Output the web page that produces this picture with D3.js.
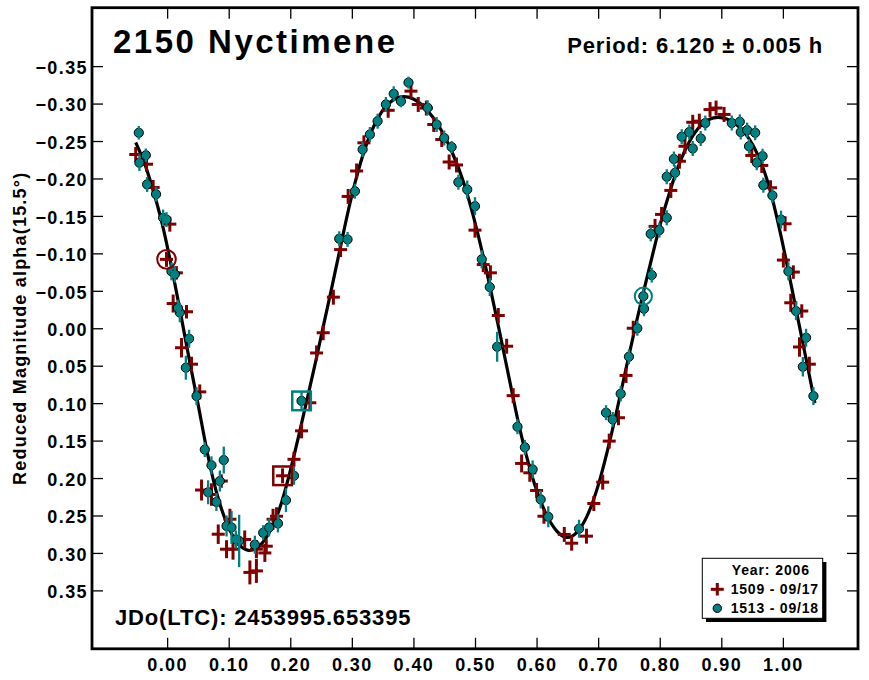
<!DOCTYPE html>
<html>
<head>
<meta charset="utf-8">
<script src="https://cdn.jsdelivr.net/npm/d3@7"></script>
<style>
  html, body { margin: 0; padding: 0; background: #fff; }
  svg { display: block; }
  text { font-family: "Liberation Sans", Arial, sans-serif; font-weight: bold; fill: #000; }
</style>
</head>
<body>
<svg id="chart" width="869" height="680"></svg>
<script>
// ---------- DATA ----------
const title = "2150 Nyctimene";
const periodText = "Period: 6.120 \u00B1 0.005 h";
const epochText = "JDo(LTC): 2453995.653395";
const yLabel = "Reduced Magnitude alpha(15.5\u00B0)";
const legendTitle = "Year: 2006";
const seriesNames = ["1509 - 09/17", "1513 - 09/18"];

const xTicks = [0, 0.1, 0.2, 0.3, 0.4, 0.5, 0.6, 0.7, 0.8, 0.9, 1.0];
const yTicks = [-0.35, -0.30, -0.25, -0.20, -0.15, -0.10, -0.05, 0, 0.05, 0.10, 0.15, 0.20, 0.25, 0.30, 0.35];

// session 1509: [phase, reduced mag, error]
const s1509 = [
  [-0.051,-0.232,0.010],[-0.0335,-0.219,0.010],[-0.0227,-0.188,0.010],[0.0044,-0.139,0.010],
  [-0.001,-0.092,0.010],[0.015,-0.074,0.009],[0.0098,-0.033,0.012],[0.0315,-0.022,0.009],
  [0.0234,0.026,0.013],[0.0396,0.048,0.010],[0.053,0.085,0.010],[0.0559,0.216,0.014],
  [0.072,0.222,0.015],[0.088,0.204,0.009],[0.083,0.275,0.013],[0.102,0.255,0.014],
  [0.0965,0.295,0.012],[0.107,0.295,0.014],[0.126,0.282,0.012],[0.1344,0.326,0.016],
  [0.145,0.324,0.016],[0.145,0.295,0.012],[0.1587,0.300,0.012],[0.161,0.291,0.010],
  [0.172,0.255,0.014],[0.1777,0.251,0.012],[0.1875,0.197,0.010],[0.206,0.175,0.010],
  [0.2183,0.137,0.010],[0.2318,0.0995,0.010],[0.2427,0.033,0.010],[0.2535,0.006,0.010],
  [0.270,-0.0415,0.010],[0.2817,-0.105,0.010],[0.294,-0.176,0.010],[0.3077,-0.210,0.010],
  [0.3196,-0.2476,0.010],[0.359,-0.291,0.010],[0.396,-0.3166,0.010],[0.4078,-0.2988,0.010],
  [0.421,-0.294,0.010],[0.433,-0.272,0.010],[0.446,-0.252,0.010],[0.458,-0.222,0.010],
  [0.470,-0.218,0.010],[0.500,-0.131,0.010],[0.5134,-0.085,0.010],[0.525,-0.074,0.010],
  [0.5378,-0.017,0.010],[0.5514,0.024,0.010],[0.562,0.090,0.010],[0.5757,0.1805,0.012],
  [0.589,0.193,0.012],[0.600,0.2166,0.010],[0.612,0.251,0.010],[0.645,0.2753,0.010],
  [0.657,0.287,0.010],[0.681,0.2776,0.010],[0.693,0.234,0.010],[0.7074,0.2055,0.010],
  [0.718,0.1507,0.010],[0.733,0.1195,0.010],[0.7453,0.063,0.010],[0.757,0.000,0.010],
  [0.7924,-0.136,0.010],[0.803,-0.152,0.010],[0.818,-0.184,0.010],[0.832,-0.223,0.010],
  [0.841,-0.243,0.010],[0.8536,-0.275,0.010],[0.8643,-0.2765,0.010],[0.8817,-0.292,0.010],
  [0.8915,-0.294,0.010],[0.9045,-0.2855,0.010],[0.9495,-0.2307,0.010],[0.9657,-0.2174,0.010],
  [0.980,-0.1876,0.010],[1.0036,-0.1395,0.010],[1.0008,-0.091,0.010],[1.017,-0.075,0.009],
  [1.0128,-0.034,0.012],[1.0307,-0.023,0.009],[1.027,0.025,0.013],[1.043,0.048,0.010]
];

// session 1513: [phase, reduced mag, error]
const s1513 = [
  [-0.046,-0.261,0.009],[-0.0346,-0.231,0.009],[-0.045,-0.221,0.011],[-0.0325,-0.192,0.010],
  [-0.018,-0.179,0.010],[-0.0065,-0.1475,0.011],[-0.001,-0.145,0.010],[0.007,-0.076,0.012],
  [0.0125,-0.072,0.011],[0.0206,-0.021,0.013],[0.0175,-0.027,0.011],[0.0357,0.014,0.012],
  [0.0304,0.0527,0.016],[0.0478,0.0906,0.012],[0.0612,0.162,0.010],[0.092,0.176,0.018],
  [0.072,0.183,0.012],[0.0856,0.204,0.014],[0.0666,0.219,0.016],[0.080,0.232,0.012],
  [0.0965,0.264,0.014],[0.1046,0.266,0.022],[0.117,0.284,0.035],[0.1116,0.282,0.012],
  [0.1425,0.289,0.012],[0.156,0.273,0.010],[0.1657,0.266,0.012],[0.180,0.2606,0.012],
  [0.193,0.2295,0.016],[0.206,0.197,0.012],[0.2183,0.097,0.012],
  [0.2795,-0.1195,0.010],[0.293,-0.1186,0.010],[0.305,-0.183,0.010],[0.3175,-0.2387,0.010],
  [0.3293,-0.2587,0.010],[0.3418,-0.2765,0.010],[0.3553,-0.2988,0.010],[0.368,-0.313,0.010],
  [0.3797,-0.303,0.008],[0.392,-0.328,0.008],[0.423,-0.2944,0.010],[0.4377,-0.272,0.010],
  [0.450,-0.254,0.010],[0.462,-0.242,0.008],[0.473,-0.195,0.010],[0.4874,-0.1853,0.012],
  [0.500,-0.163,0.012],[0.511,-0.092,0.012],[0.524,-0.055,0.012],[0.536,0.0247,0.020],
  [0.569,0.1315,0.010],[0.581,0.159,0.010],[0.5936,0.1885,0.012],[0.6067,0.2286,0.012],
  [0.619,0.2517,0.014],[0.669,0.2677,0.012],[0.7128,0.1128,0.010],[0.7236,0.1218,0.010],
  [0.7366,0.0875,0.010],[0.750,0.038,0.010],[0.7636,0.000,0.010],[0.7734,-0.0428,0.010],
  [0.7745,-0.026,0.010],[0.787,-0.071,0.010],[0.7854,-0.126,0.010],[0.7994,-0.131,0.010],
  [0.8114,-0.1475,0.010],[0.8114,-0.2023,0.010],[0.825,-0.2076,0.010],[0.823,-0.226,0.010],
  [0.8536,-0.240,0.010],[0.8357,-0.2557,0.010],[0.848,-0.262,0.010],[0.8666,-0.2534,0.010],
  [0.874,-0.274,0.010],[0.917,-0.274,0.010],[0.930,-0.2757,0.010],[0.9316,-0.262,0.010],
  [0.942,-0.2645,0.010],[0.955,-0.261,0.010],[0.945,-0.243,0.010],[0.967,-0.2298,0.010],
  [0.9576,-0.221,0.010],[0.9683,-0.191,0.010],[0.983,-0.1773,0.010],[0.997,-0.145,0.012],
  [1.009,-0.076,0.012],[1.0214,-0.0229,0.012],[1.0377,0.0127,0.012],[1.0324,0.0514,0.013],
  [1.0496,0.0906,0.012]
];

// first / last observation of each session (marked with ring / square)
const s1509First = [-0.001, -0.092];
const s1509Last  = [0.1875, 0.197];
const s1513First = [0.7734, -0.0428];
const s1513Last  = [0.2183, 0.097];

// Fourier fit curve: [phase, mag]
const fitCurve = [
  [-0.051,-0.248],[-0.036,-0.221],[-0.023,-0.185],[-0.010,-0.148],[0.002,-0.103],[0.013,-0.058],
  [0.023,-0.015],[0.037,0.047],[0.050,0.099],[0.064,0.163],[0.080,0.222],[0.097,0.263],
  [0.113,0.288],[0.132,0.300],[0.151,0.292],[0.167,0.273],[0.183,0.243],[0.199,0.195],
  [0.216,0.136],[0.232,0.078],[0.242,0.042],[0.251,0.007],[0.261,-0.030],[0.270,-0.064],
  [0.279,-0.099],[0.290,-0.142],[0.300,-0.178],[0.310,-0.210],[0.324,-0.248],[0.340,-0.279],
  [0.357,-0.300],[0.378,-0.311],[0.400,-0.308],[0.421,-0.294],[0.443,-0.270],[0.465,-0.232],
  [0.481,-0.198],[0.497,-0.152],[0.513,-0.098],[0.525,-0.053],[0.538,-0.003],[0.551,0.049],
  [0.562,0.093],[0.573,0.137],[0.587,0.182],[0.600,0.218],[0.616,0.251],[0.633,0.273],
  [0.649,0.282],[0.665,0.275],[0.681,0.255],[0.698,0.218],[0.714,0.168],[0.730,0.112],
  [0.746,0.051],[0.763,-0.012],[0.776,-0.057],[0.787,-0.093],[0.800,-0.138],[0.817,-0.185],
  [0.833,-0.224],[0.849,-0.252],[0.866,-0.272],[0.887,-0.283],[0.909,-0.281],[0.930,-0.270],
  [0.952,-0.247],[0.974,-0.203],[0.990,-0.150],[1.006,-0.089],[1.023,-0.018],[1.039,0.046],
  [1.052,0.100]
];

// ---------- LAYOUT ----------
const RED = "#800000", TEAL = "#008080";
const L = 92, R = 858, T = 7.7, B = 648.8;
const svg = d3.select("#chart");

const x = d3.scaleLinear().domain([-0.122, 1.122]).range([L, R]);
const y = d3.scaleLinear().domain([-0.428, 0.428]).range([T, B]);

// axes
const fmt = d3.format(".2f");
const ax = svg.append("g");
ax.append("g").attr("transform", `translate(0,${B})`)
  .call(d3.axisBottom(x).tickValues(xTicks).tickSize(-11).tickPadding(9).tickFormat(fmt))
  .call(g => { g.select(".domain").remove();
    g.selectAll("line").attr("stroke", "#000").attr("stroke-width", 1.3);
    g.selectAll("text").attr("font-size", 18).attr("letter-spacing", 1.4)
      .attr("font-family", '"Liberation Sans", Arial, sans-serif').attr("font-weight", "bold").attr("fill", "#000"); });
ax.append("g").attr("transform", `translate(0,${T})`)
  .call(d3.axisTop(x).tickValues(xTicks).tickSize(-11).tickFormat(""))
  .call(g => { g.select(".domain").remove(); g.selectAll("line").attr("stroke", "#000").attr("stroke-width", 1.3); });
ax.append("g").attr("transform", `translate(${L},0)`)
  .call(d3.axisLeft(y).tickValues(yTicks).tickSize(-11).tickPadding(4).tickFormat(fmt))
  .call(g => { g.select(".domain").remove();
    g.selectAll("line").attr("stroke", "#000").attr("stroke-width", 1.3);
    g.selectAll("text").attr("font-size", 18).attr("letter-spacing", 1.4).attr("dy", "0.4em")
      .attr("font-family", '"Liberation Sans", Arial, sans-serif').attr("font-weight", "bold").attr("fill", "#000"); });
ax.append("g").attr("transform", `translate(${R},0)`)
  .call(d3.axisRight(y).tickValues(yTicks).tickSize(-11).tickFormat(""))
  .call(g => { g.select(".domain").remove(); g.selectAll("line").attr("stroke", "#000").attr("stroke-width", 1.3); });

// fit curve
svg.append("path").datum(fitCurve)
  .attr("fill", "none").attr("stroke", "#000").attr("stroke-width", 3.2)
  .attr("d", d3.line().x(d => x(d[0])).y(d => y(d[1])).curve(d3.curveBasis));

// session 1509 - crosses
const g1 = svg.append("g").attr("stroke", RED).attr("stroke-width", 3);
g1.selectAll("line.h").data(s1509).join("line").attr("class", "h")
  .attr("x1", d => x(d[0]) - 6.5).attr("x2", d => x(d[0]) + 6.5)
  .attr("y1", d => y(d[1])).attr("y2", d => y(d[1]));
g1.selectAll("line.v").data(s1509).join("line").attr("class", "v")
  .attr("x1", d => x(d[0])).attr("x2", d => x(d[0]))
  .attr("y1", d => y(d[1] - d[2])).attr("y2", d => y(d[1] + d[2]));

// session 1513 - circles with error bars
const g2 = svg.append("g");
g2.selectAll("circle").data(s1513).join("circle")
  .attr("cx", d => x(d[0])).attr("cy", d => y(d[1])).attr("r", 4.6)
  .attr("fill", TEAL).attr("stroke", "#000").attr("stroke-width", 1);
g2.selectAll("line").data(s1513).join("line")
  .attr("stroke", TEAL).attr("stroke-width", 2.3)
  .attr("x1", d => x(d[0])).attr("x2", d => x(d[0]))
  .attr("y1", d => y(d[1] - d[2])).attr("y2", d => y(d[1] + d[2]));

// first / last markers
svg.append("circle").attr("cx", x(s1509First[0])).attr("cy", y(s1509First[1])).attr("r", 9.3)
  .attr("fill", "none").attr("stroke", RED).attr("stroke-width", 2);
svg.append("circle").attr("cx", x(s1513First[0])).attr("cy", y(s1513First[1])).attr("r", 8.6)
  .attr("fill", "none").attr("stroke", TEAL).attr("stroke-width", 2);
svg.append("rect").attr("x", x(s1509Last[0]) - 9.3).attr("y", y(s1509Last[1]) - 9.3)
  .attr("width", 18.6).attr("height", 18.6)
  .attr("fill", "none").attr("stroke", RED).attr("stroke-width", 2.5);
svg.append("rect").attr("x", x(s1513Last[0]) - 9.3).attr("y", y(s1513Last[1]) - 9.3)
  .attr("width", 18.6).attr("height", 18.6)
  .attr("fill", "none").attr("stroke", TEAL).attr("stroke-width", 2.5);

// frame
svg.append("rect").attr("x", L).attr("y", T).attr("width", R - L).attr("height", B - T)
  .attr("fill", "none").attr("stroke", "#000").attr("stroke-width", 2.8);

// texts
svg.append("text").attr("x", 113).attr("y", 53.3).attr("font-size", 33).attr("letter-spacing", 2.5).text(title);
svg.append("text").attr("x", 823).attr("y", 53.3).attr("text-anchor", "end")
  .attr("font-size", 22).attr("letter-spacing", 0.87).text(periodText);
svg.append("text").attr("x", 115).attr("y", 625).attr("font-size", 22).attr("letter-spacing", 0.85).text(epochText);
svg.append("text").attr("transform", `translate(26,${(T + B) / 2}) rotate(-90)`)
  .attr("text-anchor", "middle").attr("font-size", 18).attr("letter-spacing", 1.2).text(yLabel);

// legend
const lg = svg.append("g");
lg.append("rect").attr("x", 706).attr("y", 562).attr("width", 120.4).attr("height", 60).attr("fill", "#000");
lg.append("rect").attr("x", 702.3).attr("y", 558.3).attr("width", 120.4).attr("height", 60)
  .attr("fill", "#fff").attr("stroke", "#000").attr("stroke-width", 1);
lg.append("text").attr("x", 731.7).attr("y", 575).attr("font-size", 14).attr("letter-spacing", 0.9).text(legendTitle);
lg.append("line").attr("x1", 710.8).attr("x2", 723.8).attr("y1", 589.3).attr("y2", 589.3).attr("stroke", RED).attr("stroke-width", 3);
lg.append("line").attr("x1", 717.3).attr("x2", 717.3).attr("y1", 583).attr("y2", 595.5).attr("stroke", RED).attr("stroke-width", 3);
lg.append("text").attr("x", 730.7).attr("y", 594.3).attr("font-size", 14).attr("letter-spacing", 0.8).text(seriesNames[0]);
lg.append("circle").attr("cx", 717.3).attr("cy", 608.3).attr("r", 4.2).attr("fill", TEAL).attr("stroke", "#000").attr("stroke-width", 1);
lg.append("text").attr("x", 730.7).attr("y", 613.3).attr("font-size", 14).attr("letter-spacing", 0.8).text(seriesNames[1]);
</script>
</body>
</html>
